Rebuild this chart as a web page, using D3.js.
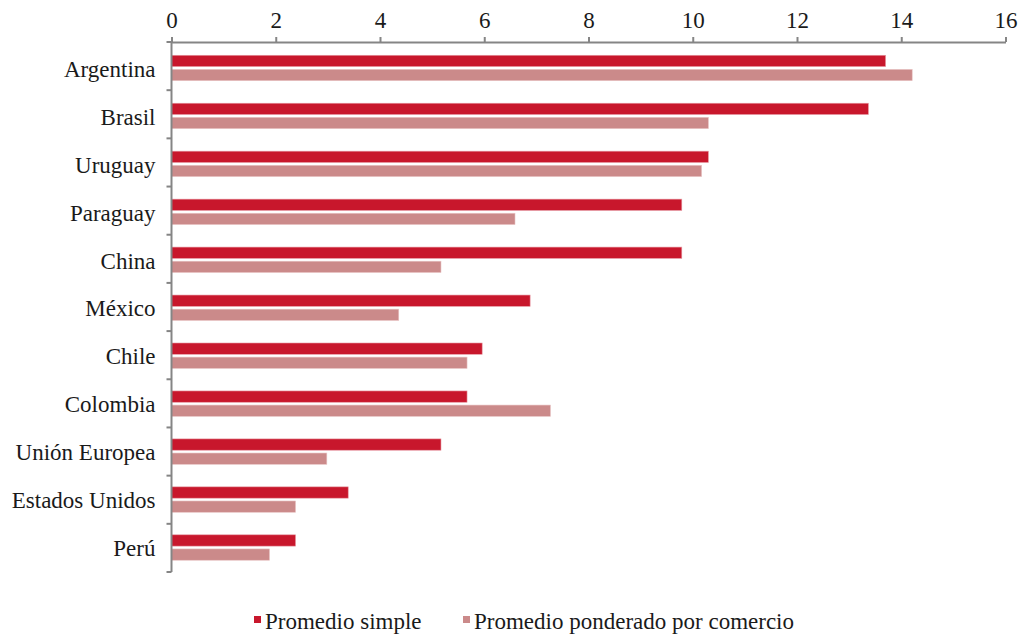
<!DOCTYPE html>
<html>
<head>
<meta charset="utf-8">
<script src="https://cdn.jsdelivr.net/npm/d3@7"></script>
<style>
  html, body { margin: 0; padding: 0; background: #ffffff; }
  svg text { font-family: "Liberation Serif", "DejaVu Serif", serif; fill: #1a1a1a; }
</style>
</head>
<body>
<svg id="chart" width="1018" height="634"></svg>
<script>
const categories = ["Argentina", "Brasil", "Uruguay", "Paraguay", "China", "México", "Chile", "Colombia", "Unión Europea", "Estados Unidos", "Perú"];
const seriesNames = ["Promedio simple", "Promedio ponderado por comercio"];
const promedioSimple = [13.70, 13.37, 10.30, 9.79, 9.79, 6.88, 5.96, 5.67, 5.17, 3.39, 2.38];
const promedioPonderado = [14.21, 10.30, 10.17, 6.59, 5.17, 4.36, 5.67, 7.27, 2.98, 2.38, 1.88];
const xTicks = [0, 2, 4, 6, 8, 10, 12, 14, 16];
const colors = ["#c8172c", "#cb8a8a"];

const svg = d3.select("#chart");
const mLeft = 171.5, mRight = 1005.5, mTop = 42, mBottom = 572;

const x = d3.scaleLinear().domain([0, 16]).range([mLeft, mRight]);
// axis band (category boundaries) and bar band (slightly inset as in the reference)
const yAxisBand = d3.scaleBand().domain(categories).range([mTop, mBottom]).padding(0);
const y0 = d3.scaleBand().domain(categories).range([mTop + 2, mBottom - 0.5]).padding(0);
const y1 = d3.scaleBand().domain(seriesNames)
  .range([y0.bandwidth() * 0.235, y0.bandwidth() * 0.765]).paddingInner(0.2);

const data = categories.map((c, i) => ({ cat: c, vals: [promedioSimple[i], promedioPonderado[i]] }));

// bars
const g = svg.append("g");
data.forEach(d => {
  d.vals.forEach((v, j) => {
    g.append("rect")
      .attr("x", x(0))
      .attr("y", y0(d.cat) + y1(seriesNames[j]))
      .attr("width", x(v) - x(0))
      .attr("height", y1.bandwidth())
      .attr("fill", colors[j])
      .attr("stroke", j === 0 ? "#e79aa3" : "#e8c4c4")
      .attr("stroke-width", 0.6);
  });
});

// top axis
const xAxis = d3.axisTop(x).tickValues(xTicks).tickSize(5).tickSizeOuter(0).tickPadding(9)
  .tickFormat(d3.format("d"));
const ax = svg.append("g").attr("transform", `translate(0,${mTop})`).call(xAxis);
ax.select(".domain").attr("stroke", "#858585").attr("stroke-width", 2);
ax.selectAll(".tick line").attr("stroke", "#858585").attr("stroke-width", 2);
ax.selectAll(".tick text").attr("font-size", 23).attr("font-family", "Liberation Serif").attr("fill", "#1a1a1a");

// left axis (category boundaries)
const la = svg.append("g");
la.append("line").attr("x1", x(0)).attr("x2", x(0)).attr("y1", mTop).attr("y2", mBottom)
  .attr("stroke", "#858585").attr("stroke-width", 2);
const bounds = categories.map(c => yAxisBand(c)).concat([yAxisBand(categories[categories.length - 1]) + yAxisBand.step()]);
la.selectAll("line.tk").data(bounds).enter().append("line").attr("class", "tk")
  .attr("x1", x(0) - 5).attr("x2", x(0)).attr("y1", d => d).attr("y2", d => d)
  .attr("stroke", "#858585").attr("stroke-width", 2);
la.selectAll("text").data(categories).enter().append("text")
  .attr("x", x(0) - 16)
  .attr("y", d => y0(d) + y0.bandwidth() / 2)
  .attr("dy", "0.38em")
  .attr("text-anchor", "end")
  .attr("font-size", 23)
  .text(d => d);

// legend
const legendItems = [{ name: seriesNames[0], x: 254 }, { name: seriesNames[1], x: 463 }];
const lg = svg.append("g");
legendItems.forEach((it, j) => {
  lg.append("rect").attr("x", it.x).attr("y", 616).attr("width", 7).attr("height", 7).attr("fill", colors[j]);
  lg.append("text").attr("x", it.x + 11).attr("y", 629).attr("font-size", 23).text(it.name);
});
</script>
</body>
</html>
